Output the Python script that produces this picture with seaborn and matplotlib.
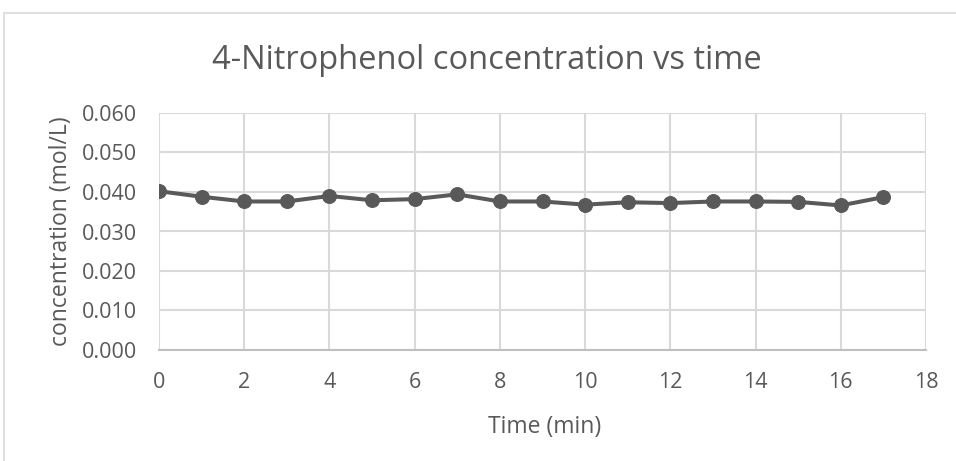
import matplotlib
matplotlib.use("Agg")
import matplotlib.pyplot as plt
import seaborn as sns
import pandas as pd
from matplotlib.patches import Rectangle

time_min = [0, 1, 2, 3, 4, 5, 6, 7, 8, 9, 10, 11, 12, 13, 14, 15, 16, 17]
concentration = [0.0402, 0.0388, 0.0376, 0.0376, 0.0390, 0.0379, 0.0382, 0.0394,
                 0.0376, 0.0376, 0.0368, 0.0374, 0.0372, 0.0376, 0.0376, 0.0375,
                 0.0366, 0.0387]
x_ticks = [0, 2, 4, 6, 8, 10, 12, 14, 16, 18]
y_ticks = [0.000, 0.010, 0.020, 0.030, 0.040, 0.050, 0.060]

df = pd.DataFrame({"time": time_min, "conc": concentration})

sns.set_style("white")
plt.rcParams["font.family"] = ["Open Sans", "DejaVu Sans"]

text_col = "#595959"
grid_col = "#d9d9d9"

W, H = 956, 461
fig = plt.figure(figsize=(W / 100, H / 100), dpi=100)
# plot area in pixels: left 159, right 926, top 113, bottom 350
ax = fig.add_axes([159 / W, 1 - 350 / H, (926 - 159) / W, (350 - 113) / H])

# chart outer border (Excel-style)
fig.patches.append(Rectangle((4 / W, -0.1), 1.2, 1 - 13 / H + 0.1, transform=fig.transFigure,
                             fill=False, edgecolor="#d9d9d9", linewidth=1.2))

sns.lineplot(data=df, x="time", y="conc", ax=ax, color=text_col, linewidth=2.9,
             marker="o", markersize=10, markeredgecolor=text_col, markerfacecolor=text_col)

ax.set_xlim(0, 18)
ax.set_ylim(0, 0.06)
ax.set_xticks(x_ticks)
ax.set_yticks(y_ticks)
ax.set_yticklabels([f"{v:.3f}" for v in y_ticks])
ax.grid(True, color=grid_col, linewidth=1.5)
ax.set_axisbelow(True)
for side in ["top", "right", "left"]:
    ax.spines[side].set_visible(False)
ax.spines["bottom"].set_color("#bfbfbf")
ax.spines["bottom"].set_linewidth(1.5)
ax.tick_params(axis="both", length=0, labelsize=15.5, labelcolor=text_col)
ax.tick_params(axis="x", pad=16)
ax.tick_params(axis="y", pad=16)

ax.set_xlabel("Time (min)", fontsize=16.5, color=text_col)
ax.set_ylabel("concentration (mol/L)", fontsize=16.5, color=text_col)
ax.xaxis.set_label_coords(545 / W, 1 - 433 / H, transform=fig.transFigure)
ax.xaxis.label.set_va("baseline")
ax.yaxis.set_label_coords(61 / W, 1 - 231 / H, transform=fig.transFigure)
ax.yaxis.label.set_va("center")

fig.text(487 / W, 1 - 69 / H, "4-Nitrophenol concentration vs time", fontsize=23.5,
         color=text_col, ha="center", va="baseline")

fig.savefig("out.png", dpi=100)
